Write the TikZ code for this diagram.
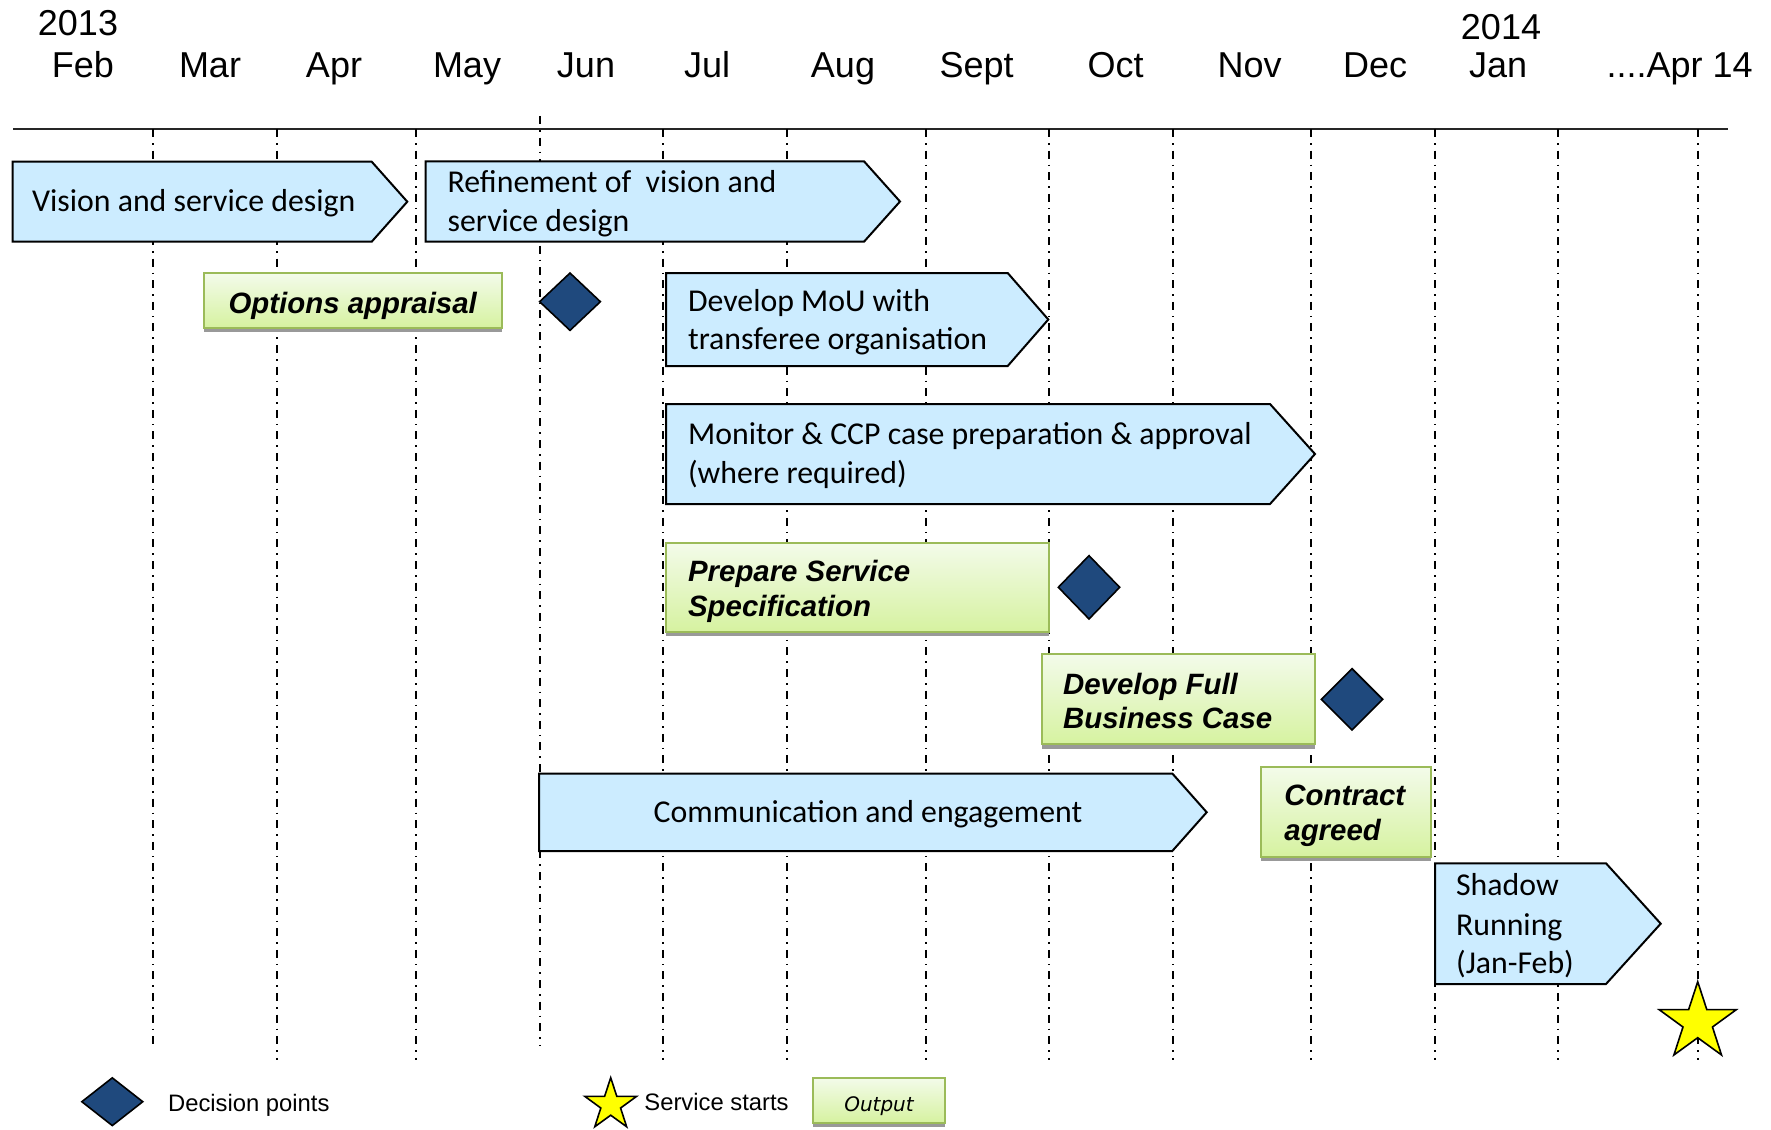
\documentclass[tikz,border=0pt]{standalone}
\usepackage{fontspec}
\setmainfont{Carlito}
\newfontfamily\arialf{Liberation Sans}
\newfontfamily\verdf{DejaVu Sans}
\usetikzlibrary{shapes.geometric,calc}
\definecolor{barblue}{RGB}{204,236,255}
\definecolor{decblue}{RGB}{31,73,125}
\definecolor{outgreen}{RGB}{155,187,89}
\definecolor{gtop}{RGB}{243,251,234}
\definecolor{gbot}{RGB}{214,242,160}
\definecolor{staryellow}{RGB}{255,255,0}
\newcommand\barpath[5]{\draw[barshape] (#1,#2) -- (#3,#2) -- (#4,{(#2+#5)/2}) -- (#3,#5) -- (#1,#5) -- cycle;}
\newcommand\outrect[4]{\fill[shadowstrip] (#1,#4) rectangle (#3,#4+4.5);
  \draw[outbox] (#1,#2) rectangle (#3,#4);}
\newcommand\starat[5]{\coordinate (#1) at (#2,#3);
  \draw[starst, shift={(#1)}] (-90:#4) -- (-54:#5) -- (-18:#4) -- (18:#5) -- (54:#4) -- (90:#5) -- (126:#4) -- (162:#5) -- (198:#4) -- (234:#5) -- cycle;}
\begin{document}
\begin{tikzpicture}[x=0.5pt,y=-0.5pt,
  txt/.style={inner sep=0pt, anchor=base west, font=\fontsize{15.9}{18}\selectfont},
  btxt/.style={inner sep=0pt, anchor=base west, font=\arialf\bfseries\itshape\fontsize{14.7}{17}\selectfont},
  month/.style={inner sep=0pt, anchor=base, font=\arialf\fontsize{18}{21}\selectfont},
  legtxt/.style={inner sep=0pt, anchor=base west, font=\arialf\fontsize{11.9}{14}\selectfont},
  gridline/.style={line width=0.8pt, dash pattern=on 4pt off 3pt on 0.8pt off 3pt},
  barshape/.style={fill=barblue, draw=black, line width=1pt, line join=miter},
  outbox/.style={draw=outgreen, line width=1pt, top color=gtop, bottom color=gbot},
  shadowstrip/.style={fill=black!40},
  decision/.style={diamond, draw=black, line width=0.8pt, fill=decblue, inner sep=0pt},
  starst/.style={draw=black, line width=0.8pt, fill=staryellow, line join=miter}]
\useasboundingbox (0,0) rectangle (1771,1129);

% header
\node[month] (y13) at (78,36) {2013};
\node[month] (y14) at (1501,40) {2014};
\node[month] (feb) at (83,78) {Feb};
\node[month] (mar) at (210,78) {Mar};
\node[month] (apr) at (334,78) {Apr};
\node[month] (may) at (467,78) {May};
\node[month] (jun) at (586,78) {Jun};
\node[month] (jul) at (707,78) {Jul};
\node[month] (aug) at (843,78) {Aug};
\node[month] (sep) at (976.6,78) {Sept};
\node[month] (oct) at (1115.6,78) {Oct};
\node[month] (nov) at (1249.6,78) {Nov};
\node[month] (dec) at (1375,78) {Dec};
\node[month] (jan) at (1498,78) {Jan};
\node[month] (apr14) at (1679.6,78) {....Apr 14};

\draw[line width=1pt, black!85] (13,129) -- (1728,129);

% grid
\draw[gridline] (153,129) -- (153,1046);
\draw[gridline] (277,129) -- (277,1060);
\draw[gridline] (416,129) -- (416,1060);
\draw[gridline] (540,116) -- (540,1046);
\foreach \gx in {663,787,926,1049,1173,1311,1435,1558,1698}
  \draw[gridline] (\gx,129) -- (\gx,1060);

% blue bars
\barpath{12.7}{161.7}{371.7}{407.3}{241.7}
\node[txt] (vis) at (31.7,211.7) {Vision and service design};
\barpath{425.7}{161.3}{864}{900}{241.7}
\node[txt] (ref1) at (447.3,192.7) {Refinement of\ \ vision and};
\node[txt] (ref2) at (447.3,231.7) {service design};
\barpath{666}{273}{1007.7}{1048.3}{366}
\node[txt] (mou1) at (687.7,311) {Develop MoU with};
\node[txt] (mou2) at (687.7,349.3) {transferee organisation};
\barpath{666}{404}{1270}{1315}{504}
\node[txt] (mon1) at (687.7,444.5) {Monitor \& CCP case preparation \& approval};
\node[txt] (mon2) at (687.7,483.3) {(where required)};
\barpath{539}{773.5}{1172.3}{1206.7}{851}
\node[txt, anchor=base] (com) at (868,822.7) {Communication and engagement};
\barpath{1435}{863.3}{1606}{1660.7}{984}
\node[txt] (sh1) at (1455.7,895.7) {Shadow};
\node[txt] (sh2) at (1455.7,935) {Running};
\node[txt] (sh3) at (1455.7,973.3) {(Jan-Feb)};

% outputs
\outrect{204.3}{273.3}{501.7}{327.7}
\node[btxt, anchor=base] (opt) at (352.7,313.3) {Options appraisal};
\outrect{666}{542.7}{1049.3}{631.7}
\node[btxt] (pss1) at (687.7,581.7) {Prepare Service};
\node[btxt] (pss2) at (687.7,616.7) {Specification};
\outrect{1041.7}{654.3}{1315}{744.3}
\node[btxt] (fbc1) at (1062.7,694) {Develop Full};
\node[btxt] (fbc2) at (1062.7,728.3) {Business Case};
\outrect{1261}{766.7}{1430.7}{856.7}
\node[btxt] (con1) at (1284,805) {Contract};
\node[btxt] (con2) at (1284,840) {agreed};

% decision points
\node[decision, minimum width=30.7pt, minimum height=29pt] (d1) at (570,301.7) {};
\node[decision, minimum width=31pt, minimum height=32pt] (d2) at (1089,587.3) {};
\node[decision, minimum width=31pt, minimum height=31pt] (d3) at (1352,699.3) {};

% service start star
\starat{st}{1697.7}{1022.2}{40.5}{15.5}

% legend
\node[decision, minimum width=30.8pt, minimum height=24.2pt] (ld) at (112.3,1101.7) {};
\node[legtxt] (ldt) at (167.7,1111) {Decision points};
\starat{ls}{610.7}{1104.8}{27.1}{10.4}
\node[legtxt] (lst) at (644,1110) {Service starts};
\outrect{813.3}{1077.7}{945}{1122.7}
\node[inner sep=0pt, anchor=base, font=\verdf\itshape\fontsize{10}{12}\selectfont] (lout) at (879,1111) {Output};
\end{tikzpicture}
\end{document}
